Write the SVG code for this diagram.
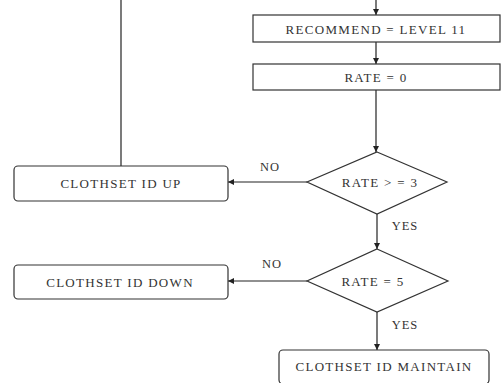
<svg xmlns="http://www.w3.org/2000/svg" width="502" height="383" viewBox="0 0 502 383">
<defs>
<style>
.box{fill:#fff;stroke:#333;stroke-width:1.2}
.t{font-family:"Liberation Serif",serif;font-size:13px;letter-spacing:1.3px;fill:#333;text-anchor:middle;dominant-baseline:central}
.l{font-family:"Liberation Serif",serif;font-size:12.5px;letter-spacing:1px;fill:#333;text-anchor:middle;dominant-baseline:central}
.c{fill:none;stroke:#222;stroke-width:1.2}
</style>
<marker id="ah" viewBox="0 0 10 10" refX="10" refY="5" markerWidth="6" markerHeight="6" orient="auto" markerUnits="userSpaceOnUse">
<path d="M0,0 L10,5 L0,10 z" fill="#222"/>
</marker>
</defs>
<rect width="502" height="383" fill="#fff"/>
<g id="connectors">
<path class="c" d="M376,0 V15" marker-end="url(#ah)"/>
<path class="c" d="M376,42 V64" marker-end="url(#ah)"/>
<path class="c" d="M376,90 V152" marker-end="url(#ah)"/>
<path class="c" d="M307,182 H228" marker-end="url(#ah)"/>
<path class="c" d="M121,166 V0"/>
<path class="c" d="M377,214 V249" marker-end="url(#ah)"/>
<path class="c" d="M307,281 H228" marker-end="url(#ah)"/>
<path class="c" d="M377,312 V350" marker-end="url(#ah)"/>
<text class="l" x="270" y="167">NO</text>
<text class="l" x="405" y="226">YES</text>
<text class="l" x="272" y="264">NO</text>
<text class="l" x="405" y="325">YES</text>
</g>
<g id="recommend">
<rect class="box" x="253" y="15" width="247" height="27"/>
<text class="t" x="376" y="29">RECOMMEND = LEVEL 11</text>
</g>
<g id="rate0">
<rect class="box" x="253" y="64" width="247" height="26"/>
<text class="t" x="376" y="77">RATE = 0</text>
</g>
<g id="dec1">
<polygon class="box" points="377,152 447,182 377,214 307,182"/>
<text class="t" x="380" y="182">RATE &gt; = 3</text>
</g>
<g id="up">
<rect class="box" x="14" y="166" width="214" height="35" rx="4"/>
<text class="t" x="121" y="183">CLOTHSET ID UP</text>
</g>
<g id="dec2">
<polygon class="box" points="377,249 448,281 377,312 307,281"/>
<text class="t" x="373" y="281">RATE = 5</text>
</g>
<g id="down">
<rect class="box" x="14" y="265" width="214" height="34" rx="4"/>
<text class="t" x="120" y="282">CLOTHSET ID DOWN</text>
</g>
<g id="maintain">
<rect class="box" x="279" y="350" width="210" height="34" rx="4"/>
<text class="t" x="384" y="366">CLOTHSET ID MAINTAIN</text>
</g>
</svg>
